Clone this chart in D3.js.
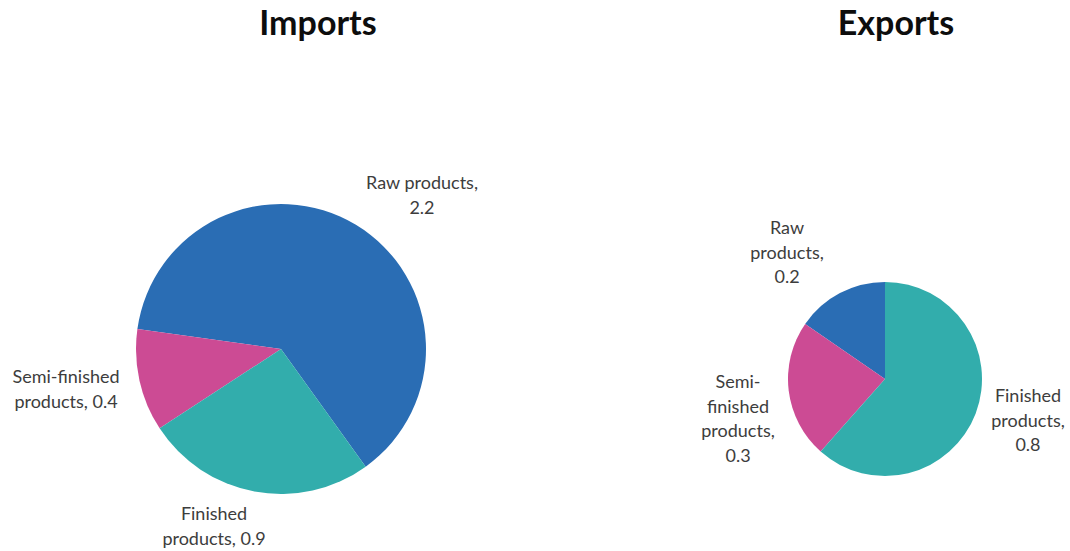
<!DOCTYPE html>
<html>
<head>
<meta charset="utf-8">
<script src="https://cdn.jsdelivr.net/npm/d3@7"></script>
<style>
  html, body { margin: 0; padding: 0; background: #ffffff; }
  svg { display: block; }
  text { font-family: Lato, "Open Sans", sans-serif; }
</style>
</head>
<body>
<svg id="chart" width="1070" height="551"></svg>
<script>
// Trade by processing stage (two pies)
const categories = ["Raw products", "Semi-finished products", "Finished products"];
const importValues = [2.2, 0.4, 0.9];
const exportValues = [0.2, 0.3, 0.8];
const chartTitles = ["Imports", "Exports"];

const colors = d3.scaleOrdinal()
  .domain(categories)
  .range(["#2a6db4", "#cc4b94", "#32adac"]);

const svg = d3.select("#chart");

// layout for each pie: centre, radius, angle of the first slice, label wrap width,
// and where each label block sits relative to the centre
const panels = [
  {
    title: chartTitles[0], values: importValues,
    cx: 281, cy: 349, r: 145, start: 144.25, wrap: 124, titleX: 318,
    labels: [
      { dx: 141, dy: -160 },
      { dx: -215, dy: 34 },
      { dx: -67, dy: 171 }
    ]
  },
  {
    title: chartTitles[1], values: exportValues,
    cx: 885, cy: 379, r: 97, start: 0, wrap: 84, titleX: 896,
    labels: [
      { dx: -98, dy: -145 },
      { dx: -147, dy: 9 },
      { dx: 143, dy: 23 }
    ]
  }
];

const lineHeight = 24.5;
const deg = Math.PI / 180;

// split a label into lines no wider than maxWidth (breaks at spaces and after hyphens)
function wrapLines(textSel, str, maxWidth) {
  const tokens = [];
  const re = /([^\s-]+-?|-)(\s*)/g;
  let m;
  while ((m = re.exec(str)) !== null) {
    if (!m[0].length) break;
    tokens.push({ word: m[1], space: m[2].length > 0 });
  }
  const probe = textSel.append("tspan");
  const measure = s => { probe.text(s); return probe.node().getComputedTextLength(); };
  const lines = [];
  let cur = "";
  tokens.forEach(t => {
    const candidate = cur + t.word;
    if (cur && measure(candidate.trim()) > maxWidth) {
      lines.push(cur.trim());
      cur = t.word + (t.space ? " " : "");
    } else {
      cur = candidate + (t.space ? " " : "");
    }
  });
  if (cur.trim()) lines.push(cur.trim());
  probe.remove();
  return lines;
}

panels.forEach(p => {
  const g = svg.append("g").attr("transform", `translate(${p.cx},${p.cy})`);

  // slices run counter-clockwise in data order, ending where the first slice began
  const pie = d3.pie()
    .sort(null)
    .value(d => d.value)
    .startAngle((p.start + 360) * deg)
    .endAngle(p.start * deg);

  const data = categories.map((c, i) => ({ category: c, value: p.values[i] }));
  const arcs = pie(data);
  const arc = d3.arc().innerRadius(0).outerRadius(p.r);

  g.selectAll("path.slice")
    .data(arcs)
    .join("path")
    .attr("class", "slice")
    .attr("d", arc)
    .attr("fill", d => colors(d.data.category));

  // data labels: "Category, value"
  arcs.forEach((a, i) => {
    const pos = p.labels[i];
    const t = g.append("text")
      .attr("text-anchor", "middle")
      .attr("font-size", 18)
      .attr("fill", "#3d3d3d");
    const lines = wrapLines(t, `${a.data.category}, ${d3.format(".1f")(a.data.value)}`, p.wrap);
    lines.forEach((ln, k) => {
      t.append("tspan")
        .attr("x", pos.dx)
        .attr("y", pos.dy + k * lineHeight)
        .text(ln);
    });
  });

  svg.append("text")
    .attr("x", p.titleX)
    .attr("y", 35)
    .attr("text-anchor", "middle")
    .attr("font-size", 34)
    .attr("font-weight", "bold")
    .attr("fill", "#0d0d0d")
    .text(p.title);
});
</script>
</body>
</html>
